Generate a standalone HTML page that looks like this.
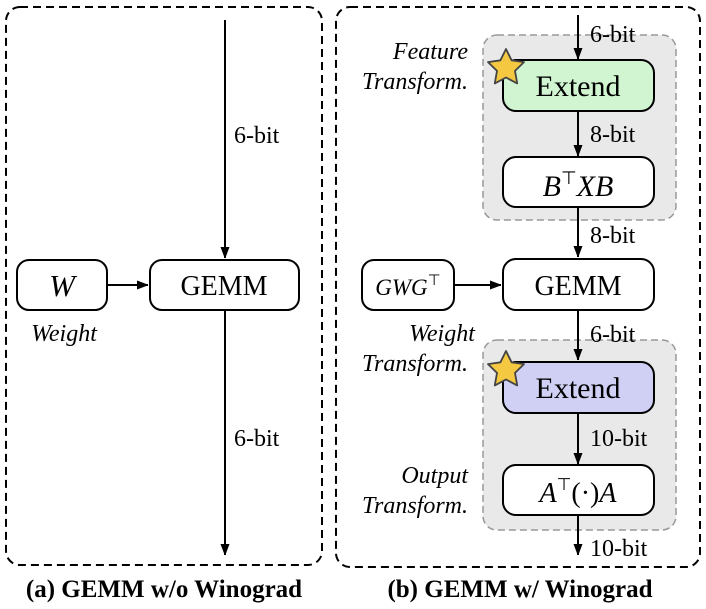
<!DOCTYPE html>
<html><head><style>
body{margin:0;background:#fff;}
svg{display:block;font-family:"Liberation Serif",serif;}
</style></head><body>
<svg width="706" height="609" viewBox="0 0 706 609" xmlns="http://www.w3.org/2000/svg">
<defs><marker id="a" markerWidth="10" markerHeight="12" refX="11" refY="5" orient="auto" markerUnits="userSpaceOnUse"><path d="M0,0.5 L12,5 L0,9.5 z" fill="#000"/></marker></defs>
<rect x="6" y="7" width="316" height="558" rx="14" fill="none" stroke="#000" stroke-width="2" stroke-dasharray="8,5"/>
<rect x="336" y="7" width="364" height="560" rx="14" fill="none" stroke="#000" stroke-width="2" stroke-dasharray="8,5"/>
<line x1="225" y1="20" x2="225" y2="258" stroke="#000" stroke-width="2" marker-end="url(#a)"/>
<line x1="225" y1="310" x2="225" y2="555" stroke="#000" stroke-width="2" marker-end="url(#a)"/>
<line x1="107" y1="285" x2="148" y2="285" stroke="#000" stroke-width="2" marker-end="url(#a)"/>
<rect x="17" y="260" width="90" height="50" rx="12" fill="#fff" stroke="#000" stroke-width="2"/>
<rect x="150" y="260" width="149" height="50" rx="12" fill="#fff" stroke="#000" stroke-width="2"/>
<text x="62" y="296" font-size="31" font-style="italic" text-anchor="middle">W</text>
<text x="224" y="295" font-size="28" text-anchor="middle">GEMM</text>
<text x="64" y="341" font-size="24" font-style="italic" text-anchor="middle">Weight</text>
<text x="234" y="143" font-size="24">6-bit</text>
<text x="234" y="446" font-size="24">6-bit</text>
<rect x="483" y="35" width="193" height="185" rx="14" fill="#e9e9e9" stroke="#999" stroke-width="1.5" stroke-dasharray="7,4"/>
<rect x="483" y="340" width="193" height="190" rx="14" fill="#e9e9e9" stroke="#999" stroke-width="1.5" stroke-dasharray="7,4"/>
<line x1="578" y1="15" x2="578" y2="59" stroke="#000" stroke-width="2" marker-end="url(#a)"/>
<line x1="578" y1="111" x2="578" y2="156" stroke="#000" stroke-width="2" marker-end="url(#a)"/>
<line x1="578" y1="207" x2="578" y2="257" stroke="#000" stroke-width="2" marker-end="url(#a)"/>
<line x1="578" y1="310" x2="578" y2="360" stroke="#000" stroke-width="2" marker-end="url(#a)"/>
<line x1="578" y1="413" x2="578" y2="464" stroke="#000" stroke-width="2" marker-end="url(#a)"/>
<line x1="578" y1="515" x2="578" y2="555" stroke="#000" stroke-width="2" marker-end="url(#a)"/>
<line x1="454" y1="285" x2="501" y2="285" stroke="#000" stroke-width="2" marker-end="url(#a)"/>
<rect x="503" y="60" width="151" height="51" rx="13" fill="#d0f5d0" stroke="#000" stroke-width="2"/>
<rect x="503" y="157" width="151" height="50" rx="13" fill="#fff" stroke="#000" stroke-width="2"/>
<rect x="503" y="259" width="151" height="51" rx="13" fill="#fff" stroke="#000" stroke-width="2"/>
<rect x="362" y="260" width="92" height="50" rx="12" fill="#fff" stroke="#000" stroke-width="2"/>
<rect x="503" y="362" width="151" height="51" rx="13" fill="#d0d0f5" stroke="#000" stroke-width="2"/>
<rect x="503" y="465" width="151" height="50" rx="13" fill="#fff" stroke="#000" stroke-width="2"/>
<g fill="#f5c842" stroke="#444" stroke-width="1.8" stroke-linejoin="round">
<path transform="translate(506,68)" d="M0,-19 L5.6,-7.7 L18,-5.9 L9,2.9 L11.2,15.4 L0,9.5 L-11.2,15.4 L-9,2.9 L-18,-5.9 L-5.6,-7.7 Z"/>
<path transform="translate(506,370)" d="M0,-19 L5.6,-7.7 L18,-5.9 L9,2.9 L11.2,15.4 L0,9.5 L-11.2,15.4 L-9,2.9 L-18,-5.9 L-5.6,-7.7 Z"/>
</g>
<text x="578" y="96" font-size="30" text-anchor="middle">Extend</text>
<text x="578" y="398" font-size="30" text-anchor="middle">Extend</text>
<text x="578" y="295" font-size="28" text-anchor="middle">GEMM</text>
<text x="578" y="196" font-size="30" font-style="italic" text-anchor="middle">B<tspan font-style="normal" font-size="18" dy="-12">⊤</tspan><tspan dy="12">XB</tspan></text>
<text x="578" y="502" font-size="28" text-anchor="middle"><tspan font-style="italic">A</tspan><tspan font-size="17" dy="-12">⊤</tspan><tspan dy="12">(·)</tspan><tspan font-style="italic">A</tspan></text>
<text x="408" y="295" font-size="23" text-anchor="middle"><tspan font-style="italic">GWG</tspan><tspan font-size="15" dy="-10">⊤</tspan></text>
<text x="590" y="42" font-size="24">6-bit</text>
<text x="590" y="142" font-size="24">8-bit</text>
<text x="590" y="243" font-size="24">8-bit</text>
<text x="590" y="342" font-size="24">6-bit</text>
<text x="590" y="446" font-size="24">10-bit</text>
<text x="590" y="556" font-size="24">10-bit</text>
<g font-size="24" font-style="italic" text-anchor="end">
<text x="468" y="59">Feature</text>
<text x="468" y="89">Transform.</text>
<text x="442" y="341" text-anchor="middle">Weight</text>
<text x="468" y="371">Transform.</text>
<text x="468" y="483">Output</text>
<text x="468" y="513">Transform.</text>
</g>
<text x="164" y="597" font-size="25" font-weight="bold" text-anchor="middle">(a) GEMM w/o Winograd</text>
<text x="520" y="597" font-size="25" font-weight="bold" text-anchor="middle">(b) GEMM w/ Winograd</text>
</svg>
</body></html>
